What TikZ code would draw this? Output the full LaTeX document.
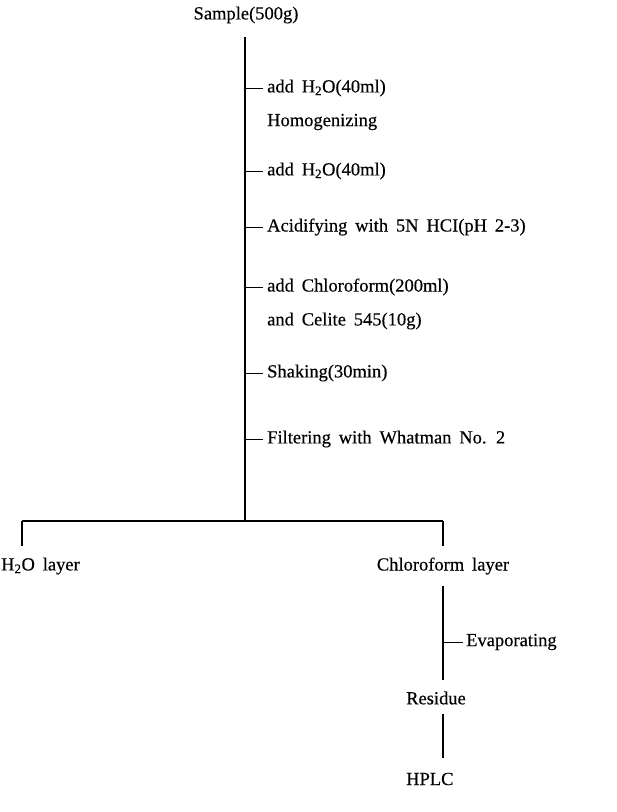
\documentclass[tikz,border=0pt]{standalone}
\usepackage{fontspec}
\setmainfont{Liberation Serif}[WordSpace=1.7, FakeBold=0.4]
\begin{document}
\begin{tikzpicture}[x=1pt,y=-1pt,
  every node/.style={font=\fontsize{18.5}{22}\selectfont, inner sep=0pt},
  txt/.style={anchor=west},
  ctr/.style={anchor=center},
  trunk/.style={line width=1.3pt},
  tick/.style={line width=0.9pt}]
\useasboundingbox (0,0) rectangle (617,812);
% top
\node[ctr] (sample) at (246,15) {Sample(500g)};
\coordinate (top) at (245,37);
\coordinate (split) at (245,521);
\draw[trunk] (top) -- (split);
% steps
\coordinate (j1) at (245,88);
\coordinate (j2) at (245,171);
\coordinate (j3) at (245,227);
\coordinate (j4) at (245,287);
\coordinate (j5) at (245,373);
\coordinate (j6) at (245,439);
\node[txt] (s1) at (267,88) {add H\textsubscript{2}O(40ml)};
\node[txt] (s1b) at (267,122) {Homogenizing};
\node[txt] (s2) at (267,171) {add H\textsubscript{2}O(40ml)};
\node[txt] (s3) at (267,227) {Acidifying with 5N HCI(pH 2-3)};
\node[txt] (s4) at (267,287) {add Chloroform(200ml)};
\node[txt] (s4b) at (267,321) {and Celite 545(10g)};
\node[txt] (s5) at (267,373) {Shaking(30min)};
\node[txt] (s6) at (267,439) {Filtering with Whatman No. 2};
\foreach \i in {1,...,6} \draw[tick] (j\i) -- ([xshift=-4pt]s\i.west);
% split bar
\coordinate (bl) at (22,521);
\coordinate (br) at (443,521);
\draw[trunk] (bl) -- (br);
\node[txt] (water) at (1,566) {H\textsubscript{2}O layer};
\node[ctr] (chl) at (443,566) {Chloroform layer};
\draw[trunk] (bl) -- (22,546);
\draw[trunk] (br) -- (443,546);
% chloroform branch
\node[txt] (res) at (406,698) {Residue};
\node[txt] (hplc) at (406,779) {HPLC};
\coordinate (c1) at (443,586);
\coordinate (c2) at (443,680);
\coordinate (je) at (443,642);
\node[txt] (evap) at (466,642) {Evaporating};
\draw[trunk] (c1) -- (c2);
\draw[tick] (je) -- ([xshift=-3pt]evap.west);
\draw[trunk] (443,714) -- (443,758);
\end{tikzpicture}
\end{document}
